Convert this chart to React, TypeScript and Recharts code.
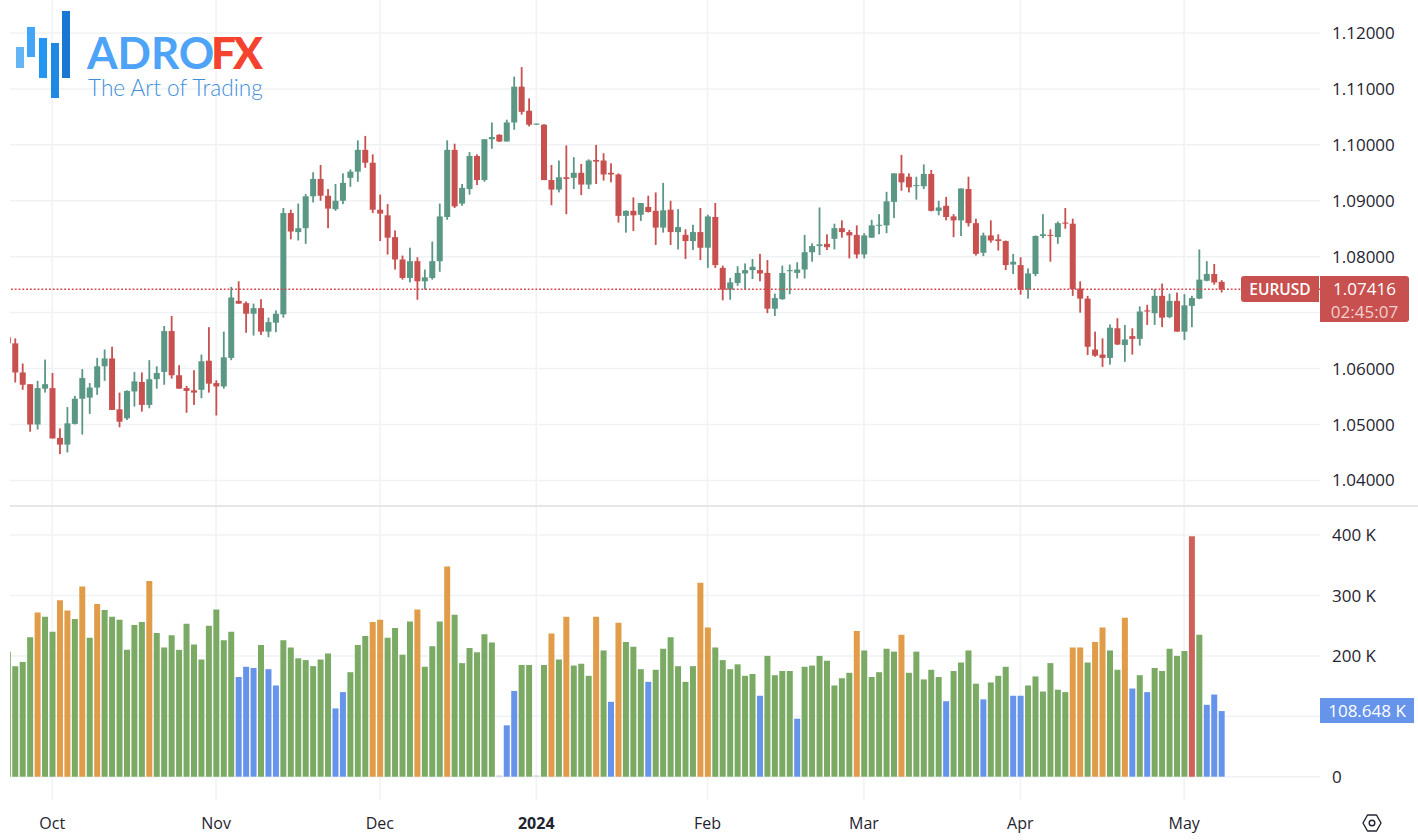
import React from 'react';
import { ComposedChart, Bar, XAxis, YAxis, CartesianGrid, ReferenceLine, Cell } from 'recharts';

// EURUSD daily candles, Oct 2023 - May 2024
const opens = [
  1.0656, 1.0645, 1.0593, 1.0572, 1.0500, 1.0564, 1.0565, 1.0476, 1.0464, 1.0501,
  1.0546, 1.0548, 1.0566, 1.0604, 1.0618, 1.0527, 1.0511, 1.0559, 1.0576, 1.0535,
  1.0581, 1.0594, 1.0667, 1.0588, 1.0565, 1.0561, 1.0562, 1.0614, 1.0574, 1.0568,
  1.0619, 1.0721, 1.0717, 1.0698, 1.0708, 1.0666, 1.0682, 1.0697, 1.0878, 1.0844,
  1.0851, 1.0908, 1.0939, 1.0909, 1.0885, 1.0900, 1.0941, 1.0952, 1.0991, 1.0968,
  1.0884, 1.0874, 1.0835, 1.0795, 1.0762, 1.0792, 1.0756, 1.0762, 1.0792, 1.0871,
  1.0991, 1.0895, 1.0921, 1.0980, 1.0937, 1.1010, 1.1018, 1.1006, 1.1040, 1.1104,
  1.1061, 1.1036, 1.1036, 1.0937, 1.0920, 1.0942, 1.0941, 1.0950, 1.0929, 1.0973,
  1.0972, 1.0950, 1.0947, 1.0873, 1.0882, 1.0875, 1.0889, 1.0882, 1.0852, 1.0884,
  1.0844, 1.0839, 1.0828, 1.0844, 1.0816, 1.0871, 1.0780, 1.0741, 1.0753, 1.0770,
  1.0776, 1.0776, 1.0771, 1.0707, 1.0724, 1.0774, 1.0771, 1.0777, 1.0808, 1.0819,
  1.0823, 1.0832, 1.0851, 1.0844, 1.0839, 1.0804, 1.0834, 1.0856, 1.0856, 1.0898,
  1.0949, 1.0943, 1.0927, 1.0926, 1.0948, 1.0882, 1.0891, 1.0872, 1.0865, 1.0921,
  1.0860, 1.0807, 1.0838, 1.0831, 1.0828, 1.0786, 1.0785, 1.0742, 1.0769, 1.0837,
  1.0839, 1.0835, 1.0861, 1.0859, 1.0743, 1.0725, 1.0634, 1.0625, 1.0619, 1.0672,
  1.0642, 1.0658, 1.0653, 1.0704, 1.0699, 1.0730, 1.0692, 1.0721, 1.0666, 1.0712,
  1.0725, 1.0757, 1.0769, 1.0755,
];
const highs = [
  1.0656, 1.0654, 1.0609, 1.0572, 1.0578, 1.0616, 1.0592, 1.0493, 1.0531, 1.0551,
  1.0599, 1.0574, 1.0619, 1.0634, 1.0639, 1.0557, 1.0561, 1.0594, 1.0593, 1.0615,
  1.0604, 1.0676, 1.0694, 1.0606, 1.0569, 1.0597, 1.0625, 1.0674, 1.0579, 1.0666,
  1.0746, 1.0756, 1.0720, 1.0716, 1.0724, 1.0691, 1.0704, 1.0887, 1.0884, 1.0895,
  1.0912, 1.0951, 1.0964, 1.0921, 1.0930, 1.0949, 1.0956, 1.1008, 1.1016, 1.0983,
  1.0911, 1.0894, 1.0847, 1.0802, 1.0816, 1.0799, 1.0777, 1.0827, 1.0895, 1.1008,
  1.1002, 1.0930, 1.0987, 1.0983, 1.1010, 1.1040, 1.1019, 1.1045, 1.1122, 1.1139,
  1.1083, 1.1038, 1.1037, 1.0964, 1.0972, 1.0999, 1.0978, 1.0966, 1.0974, 1.1000,
  1.0985, 1.0967, 1.0949, 1.0883, 1.0906, 1.0896, 1.0909, 1.0915, 1.0932, 1.0900,
  1.0885, 1.0849, 1.0857, 1.0887, 1.0875, 1.0896, 1.0784, 1.0762, 1.0783, 1.0788,
  1.0796, 1.0805, 1.0794, 1.0734, 1.0784, 1.0786, 1.0790, 1.0839, 1.0824, 1.0888,
  1.0840, 1.0859, 1.0865, 1.0848, 1.0856, 1.0842, 1.0866, 1.0876, 1.0916, 1.0949,
  1.0982, 1.0949, 1.0943, 1.0965, 1.0955, 1.0900, 1.0907, 1.0876, 1.0922, 1.0943,
  1.0868, 1.0843, 1.0865, 1.0840, 1.0829, 1.0805, 1.0799, 1.0779, 1.0838, 1.0876,
  1.0849, 1.0863, 1.0887, 1.0868, 1.0756, 1.0730, 1.0666, 1.0654, 1.0679, 1.0690,
  1.0678, 1.0672, 1.0711, 1.0714, 1.0742, 1.0752, 1.0734, 1.0736, 1.0733, 1.0730,
  1.0813, 1.0792, 1.0787, 1.0758,
];
const lows = [
  1.0640, 1.0575, 1.0562, 1.0487, 1.0491, 1.0557, 1.0475, 1.0447, 1.0450, 1.0500,
  1.0482, 1.0519, 1.0553, 1.0578, 1.0526, 1.0495, 1.0508, 1.0532, 1.0523, 1.0529,
  1.0564, 1.0571, 1.0582, 1.0564, 1.0521, 1.0535, 1.0547, 1.0557, 1.0516, 1.0564,
  1.0615, 1.0716, 1.0664, 1.0659, 1.0660, 1.0656, 1.0665, 1.0691, 1.0831, 1.0829,
  1.0823, 1.0897, 1.0900, 1.0851, 1.0882, 1.0894, 1.0925, 1.0934, 1.0959, 1.0878,
  1.0828, 1.0804, 1.0777, 1.0759, 1.0754, 1.0723, 1.0741, 1.0759, 1.0773, 1.0866,
  1.0887, 1.0891, 1.0911, 1.0928, 1.0934, 1.0993, 1.1005, 1.1006, 1.1027, 1.1054,
  1.1033, 1.1036, 1.0937, 1.0892, 1.0915, 1.0876, 1.0921, 1.0910, 1.0921, 1.0930,
  1.0936, 1.0933, 1.0861, 1.0843, 1.0846, 1.0864, 1.0879, 1.0821, 1.0843, 1.0821,
  1.0813, 1.0796, 1.0812, 1.0794, 1.0780, 1.0780, 1.0722, 1.0723, 1.0748, 1.0741,
  1.0760, 1.0756, 1.0699, 1.0694, 1.0723, 1.0733, 1.0761, 1.0761, 1.0791, 1.0803,
  1.0812, 1.0813, 1.0834, 1.0797, 1.0797, 1.0797, 1.0834, 1.0840, 1.0842, 1.0869,
  1.0918, 1.0915, 1.0902, 1.0921, 1.0881, 1.0874, 1.0865, 1.0835, 1.0837, 1.0854,
  1.0802, 1.0801, 1.0825, 1.0811, 1.0776, 1.0769, 1.0732, 1.0725, 1.0765, 1.0833,
  1.0791, 1.0823, 1.0850, 1.0730, 1.0700, 1.0624, 1.0621, 1.0603, 1.0607, 1.0642,
  1.0612, 1.0625, 1.0641, 1.0678, 1.0678, 1.0674, 1.0690, 1.0666, 1.0651, 1.0674,
  1.0724, 1.0756, 1.0750, 1.0736,
];
const closes = [
  1.0645, 1.0593, 1.0571, 1.0500, 1.0565, 1.0572, 1.0475, 1.0464, 1.0502, 1.0546,
  1.0583, 1.0566, 1.0604, 1.0618, 1.0526, 1.0505, 1.0560, 1.0577, 1.0535, 1.0581,
  1.0592, 1.0667, 1.0588, 1.0564, 1.0560, 1.0557, 1.0613, 1.0573, 1.0568, 1.0620,
  1.0727, 1.0716, 1.0698, 1.0708, 1.0666, 1.0683, 1.0698, 1.0878, 1.0845, 1.0851,
  1.0908, 1.0939, 1.0909, 1.0886, 1.0900, 1.0932, 1.0952, 1.0991, 1.0968, 1.0884,
  1.0877, 1.0834, 1.0795, 1.0762, 1.0792, 1.0756, 1.0763, 1.0792, 1.0872, 1.0991,
  1.0890, 1.0923, 1.0980, 1.0937, 1.1010, 1.1014, 1.1006, 1.1040, 1.1104, 1.1059,
  1.1036, 1.1038, 1.0937, 1.0920, 1.0942, 1.0939, 1.0950, 1.0929, 1.0972, 1.0970,
  1.0947, 1.0947, 1.0873, 1.0882, 1.0874, 1.0896, 1.0880, 1.0852, 1.0883, 1.0844,
  1.0853, 1.0828, 1.0844, 1.0816, 1.0872, 1.0785, 1.0741, 1.0754, 1.0771, 1.0776,
  1.0782, 1.0770, 1.0707, 1.0726, 1.0771, 1.0776, 1.0777, 1.0808, 1.0819, 1.0822,
  1.0817, 1.0851, 1.0844, 1.0838, 1.0804, 1.0838, 1.0856, 1.0857, 1.0899, 1.0949,
  1.0933, 1.0924, 1.0928, 1.0948, 1.0882, 1.0888, 1.0871, 1.0865, 1.0922, 1.0860,
  1.0805, 1.0838, 1.0829, 1.0828, 1.0785, 1.0791, 1.0742, 1.0770, 1.0837, 1.0840,
  1.0838, 1.0860, 1.0859, 1.0742, 1.0725, 1.0639, 1.0623, 1.0619, 1.0673, 1.0643,
  1.0652, 1.0653, 1.0702, 1.0702, 1.0730, 1.0691, 1.0721, 1.0666, 1.0713, 1.0726,
  1.0759, 1.0769, 1.0754, 1.07416,
];

// volume in thousands
const volumes = [
  207, 183, 190, 231, 272, 265, 240, 292, 275, 261,
  315, 230, 286, 276, 265, 260, 210, 251, 256, 324,
  238, 214, 234, 210, 253, 219, 194, 250, 277, 226,
  240, 165, 182, 180, 218, 178, 151, 226, 214, 196,
  193, 183, 194, 204, 113, 140, 173, 218, 233, 256,
  260, 230, 246, 202, 257, 277, 182, 216, 257, 348,
  268, 188, 213, 206, 236, 222, 2, 85, 142, 185,
  185, 2, 185, 237, 194, 265, 184, 187, 167, 265,
  209, 124, 255, 223, 215, 178, 157, 177, 212, 231,
  183, 157, 183, 321, 247, 214, 193, 178, 186, 167,
  170, 134, 200, 168, 175, 175, 96, 182, 184, 200,
  192, 151, 163, 172, 241, 209, 165, 173, 212, 207,
  235, 172, 207, 161, 177, 165, 125, 175, 189, 209,
  154, 128, 156, 167, 182, 134, 134, 151, 166, 141,
  188, 144, 140, 214, 214, 189, 223, 247, 209, 177,
  263, 146, 168, 140, 180, 175, 212, 200, 208, 398,
  235, 119, 136, 108.648,
];
// g normal, o high, b low, r climax, n empty session; rows line up with volumes
const volumeKinds = [
  'ggggoggoog',
  'ogoggggggo',
  'gggggggggg',
  'gbbbgbbggg',
  'ggggbbgggo',
  'oggggogggo',
  'ggggggnbbg',
  'gngogogggo',
  'gbogggbggg',
  'gggooggggg',
  'gbggggbggg',
  'ggggoggggg',
  'ogggggbggg',
  'gbgggbbggg',
  'gggoogoogg',
  'obgbgggggr',
  'gbbb',
].join('');

const priceTicks = [1.04, 1.05, 1.06, 1.07, 1.08, 1.09, 1.10, 1.11, 1.12];
const volumeTicks = [0, 100, 200, 300, 400];
const monthTicks = [6, 28, 50, 71, 94, 115, 136, 158];
const monthLabels = ['Oct', 'Nov', 'Dec', '2024', 'Feb', 'Mar', 'Apr', 'May'];
const lastPrice = 1.07416;

const UP = '#5b9785';
const DOWN = '#c8504f';
const GRID = '#f0f2f5';
const TEXT = '#1f2430';
const FONT = '"Open Sans", sans-serif';
const KIND_COLORS: Record<string, string> = {
  g: '#7aaa64',
  o: '#e09c48',
  b: '#6694ea',
  r: '#d0605a',
  n: '#c9ccd2',
};

const candleData = opens.map((open, i) => ({
  i,
  open,
  high: highs[i],
  low: lows[i],
  close: closes[i],
}));
const volumeData = volumes.map((volume, i) => ({ i, volume }));

// the wick is the bar's own range, body is placed by the same scale
const Candle = (props: any) => {
  const { x, y, width, height, payload } = props;
  const { open, high, low, close } = payload;
  const pxPerUnit = height / (high - low);
  const color = close >= open ? UP : DOWN;
  const top = y + (high - Math.max(open, close)) * pxPerUnit;
  const bodyH = Math.max(Math.abs(open - close) * pxPerUnit, 1);
  return (
    <g>
      <rect x={x + width / 2 - 0.9} y={y} width={1.8} height={height} fill={color} />
      <rect x={x} y={top} width={width} height={bodyH} fill={color} />
    </g>
  );
};

const MonthTick = (props: any) => {
  const { x, y, payload } = props;
  const label = monthLabels[monthTicks.indexOf(payload.value)];
  return (
    <text
      x={x}
      y={y + 21}
      textAnchor="middle"
      fontSize={16}
      fontFamily={FONT}
      fontWeight={label === '2024' ? 700 : 400}
      fill={TEXT}
    >
      {label}
    </text>
  );
};

const xDomain: [number, number] = [0.33, 176.24];

const Logo = () => {
  const bars = [
    { left: 16, top: 47, h: 21, c: '#64b5f6' },
    { left: 27, top: 27, h: 30, c: '#42a5f5' },
    { left: 39, top: 38, h: 40, c: '#2196f3' },
    { left: 51, top: 43, h: 55, c: '#1e88e5' },
    { left: 62, top: 11, h: 67, c: '#1976d2' },
  ];
  return (
    <div style={{ position: 'absolute', left: 0, top: 0 }}>
      {bars.map((b) => (
        <div key={b.left} style={{ position: 'absolute', left: b.left, top: b.top, width: 8, height: b.h, background: b.c }} />
      ))}
      <div style={{ position: 'absolute', left: 87, top: 30, fontFamily: 'Lato', fontWeight: 700, fontSize: 44, lineHeight: '44px', color: '#4da3f7' }}>ADRO</div>
      <div style={{ position: 'absolute', left: 211, top: 30, fontFamily: 'Lato', fontWeight: 900, fontSize: 44, lineHeight: '44px', letterSpacing: -3, color: '#f4432f' }}>FX</div>
      <div style={{ position: 'absolute', left: 88, top: 74, fontFamily: 'Lato', fontWeight: 300, fontSize: 22.6, lineHeight: '28px', whiteSpace: 'nowrap', color: '#3f8fdc' }}>The Art of Trading</div>
    </div>
  );
};

const App = () => {
  return (
    <div style={{ position: 'absolute', left: 0, top: 0, width: 1418, height: 840, background: '#fff', overflow: 'hidden', fontFamily: FONT }}>
      {/* price pane */}
      <div style={{ position: 'absolute', left: 0, top: 0 }}>
        <ComposedChart width={1418} height={505} data={candleData} margin={{ top: 0, right: 0, bottom: 0, left: 10 }}>
          <CartesianGrid stroke={GRID} strokeWidth={1.5} syncWithTicks />
          <XAxis dataKey="i" type="number" domain={xDomain} allowDataOverflow ticks={monthTicks} hide />
          <YAxis
            orientation="right"
            width={98}
            domain={[1.0356, 1.1259]}
            allowDataOverflow
            ticks={priceTicks}
            tickFormatter={(v: number) => v.toFixed(5)}
            axisLine={false}
            tickLine={false}
            tickMargin={6}
            tick={{ fill: TEXT, fontSize: 17, fontFamily: FONT }}
          />
          <ReferenceLine y={lastPrice} stroke="#d9434e" strokeDasharray="1.8 2" strokeWidth={1.5} />
          <Bar dataKey={(d: any) => [d.low, d.high]} barSize={6} shape={Candle} isAnimationActive={false} />
        </ComposedChart>
      </div>

      {/* pane separator */}
      <div style={{ position: 'absolute', left: 10, top: 505, width: 1408, height: 2, background: '#e4e6ea' }} />

      {/* volume pane */}
      <div style={{ position: 'absolute', left: 0, top: 507 }}>
        <ComposedChart width={1418} height={333} data={volumeData} margin={{ top: 0, right: 0, bottom: 0, left: 10 }}>
          <CartesianGrid stroke={GRID} strokeWidth={1.5} syncWithTicks />
          <XAxis
            dataKey="i"
            type="number"
            domain={xDomain}
            allowDataOverflow
            ticks={monthTicks}
            height={40}
            interval={0}
            axisLine={false}
            tickLine={false}
            tick={MonthTick}
          />
          <YAxis
            orientation="right"
            width={98}
            domain={[-38.6, 446.5]}
            allowDataOverflow
            ticks={volumeTicks}
            tickFormatter={(v: number) => (v === 0 ? '0' : v === 100 ? '' : `${v} K`)}
            axisLine={false}
            tickLine={false}
            tickMargin={6}
            tick={{ fill: TEXT, fontSize: 17, fontFamily: FONT }}
          />
          <Bar dataKey="volume" barSize={6} isAnimationActive={false}>
            {volumeData.map((d) => (
              <Cell key={d.i} fill={KIND_COLORS[volumeKinds[d.i]]} />
            ))}
          </Bar>
        </ComposedChart>
      </div>

      <Logo />

      {/* last price tags */}
      <div style={{ position: 'absolute', left: 1241, top: 276, width: 78, height: 26, background: DOWN, borderRadius: '3px 0 0 3px', color: '#fff', fontSize: 15.5, fontWeight: 600, lineHeight: '26px', textAlign: 'center' }}>EURUSD</div>
      <div style={{ position: 'absolute', left: 1320, top: 276, width: 89, height: 46, background: DOWN, borderRadius: '0 3px 3px 0', color: '#fff', textAlign: 'center', fontSize: 17 }}>
        <div style={{ lineHeight: '25px' }}>{lastPrice.toFixed(5)}</div>
        <div style={{ lineHeight: '21px', color: '#f3cfcd' }}>02:45:07</div>
      </div>
      <div style={{ position: 'absolute', left: 1320, top: 698, width: 94, height: 25, background: '#6694ea', color: '#fff', fontSize: 17, lineHeight: '25px', textAlign: 'center', whiteSpace: 'nowrap' }}>108.648 K</div>

      {/* chart settings icon */}
      <svg style={{ position: 'absolute', left: 1361, top: 812 }} width="22" height="22" viewBox="0 0 22 22">
        <path d="M6.5 3 H15.5 L20 11 L15.5 19 H6.5 L2 11 Z" fill="none" stroke={TEXT} strokeWidth="1.4" strokeLinejoin="round" />
        <circle cx="11" cy="11" r="2.8" fill="none" stroke={TEXT} strokeWidth="1.4" />
      </svg>
    </div>
  );
};

export default App;
